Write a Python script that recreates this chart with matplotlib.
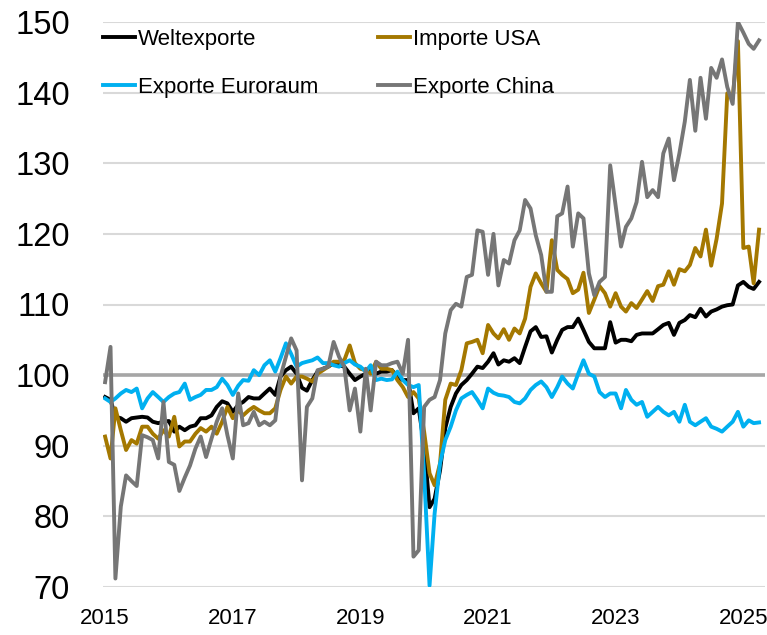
import numpy as np
import pandas as pd
import matplotlib
matplotlib.use("Agg")
import matplotlib.pyplot as plt

# Monatswerte Jan 2015 - Apr 2025, Index
weltexporte = [96.9, 96.5, 94.1, 93.9, 93.4, 93.9, 94.0, 94.1, 94.0, 93.4, 93.2, 93.4, 93.5, 92.0, 92.7, 92.2,
               92.7, 92.9, 93.9, 93.9, 94.3, 95.5, 96.3, 96.0, 94.8, 95.8, 96.2, 96.9, 96.7, 96.7, 97.4, 98.1,
               97.2, 99.8, 100.7, 101.2, 100.2, 98.2, 97.8, 99.3, 100.5, 100.9, 101.2, 101.7, 101.4, 101.2, 100.2, 99.3,
               99.8, 100.2, 100.9, 100.2, 100.5, 100.5, 100.7, 99.8, 99.3, 99.3, 94.6, 95.3, 90.0, 81.3, 82.5, 86.5,
               92.5, 95.5, 97.4, 98.6, 99.3, 100.2, 101.2, 101.0, 101.9, 103.1, 101.5, 102.1, 101.9, 102.4, 101.7, 104.0,
               106.2, 106.8, 105.4, 105.5, 103.2, 105.0, 106.4, 106.8, 106.8, 108.0, 106.4, 104.7, 103.8, 103.8, 103.8, 107.5,
               104.6, 105.0, 105.0, 104.8, 105.7, 105.9, 105.9, 105.9, 106.5, 107.1, 107.4, 105.7, 107.4, 107.8, 108.5, 108.2,
               109.4, 108.3, 109.0, 109.3, 109.7, 109.9, 110.0, 112.7, 113.2, 112.5, 112.2, 113.2]

importe_usa = [91.3, 88.2, 95.3, 92.2, 89.4, 90.8, 90.3, 92.7, 92.7, 91.7, 91.0, 92.2, 91.3, 94.1, 89.9, 90.6,
               90.6, 91.7, 92.5, 92.0, 92.7, 91.7, 93.4, 95.5, 93.9, 95.0, 94.3, 95.0, 95.5, 95.0, 94.6, 94.6,
               95.3, 97.9, 99.8, 98.8, 99.8, 99.8, 99.5, 99.1, 100.2, 100.7, 101.2, 101.9, 101.9, 102.1, 104.2, 101.7,
               100.9, 100.7, 100.2, 101.9, 100.9, 100.9, 100.7, 99.3, 98.3, 96.9, 97.6, 96.7, 92.0, 86.1, 84.4, 87.5,
               96.5, 98.8, 98.6, 100.7, 104.5, 104.7, 105.0, 103.1, 107.1, 105.9, 105.2, 106.5, 105.0, 106.6, 105.9, 108.0,
               112.5, 114.4, 113.0, 111.8, 119.1, 114.9, 114.2, 113.6, 111.6, 112.1, 114.5, 108.8, 110.7, 112.6, 111.6, 109.7,
               111.6, 109.7, 109.0, 110.2, 109.5, 110.7, 111.9, 110.5, 112.6, 112.8, 114.7, 112.8, 115.0, 114.7, 115.6, 118.0,
               116.8, 120.6, 115.5, 119.3, 124.3, 139.9, 139.2, 147.3, 118.0, 118.2, 113.0, 120.6]

exporte_euroraum = [96.7, 96.2, 96.7, 97.4, 97.9, 97.6, 98.1, 95.3, 96.7, 97.6, 96.9, 96.2, 96.9, 97.4, 97.6, 98.8,
                    96.5, 96.9, 97.2, 97.9, 97.9, 98.3, 99.5, 98.6, 97.2, 98.5, 99.3, 99.2, 100.7, 100.0, 101.4, 102.1,
                    100.5, 102.4, 104.5, 103.0, 101.2, 101.7, 101.9, 102.1, 102.5, 101.7, 101.7, 101.4, 101.2, 101.7, 102.1, 101.5,
                    101.2, 100.5, 101.4, 99.3, 99.5, 99.3, 99.4, 100.5, 99.3, 98.6, 98.3, 98.6, 86.0, 70.2, 80.4, 87.5,
                    90.8, 92.7, 95.0, 96.7, 97.2, 97.6, 96.5, 95.3, 98.1, 97.5, 97.2, 97.1, 96.9, 96.2, 96.0, 96.7,
                    97.9, 98.6, 99.1, 98.3, 96.9, 98.3, 99.8, 98.8, 98.1, 100.2, 102.1, 100.2, 99.8, 97.6, 96.9, 97.4,
                    97.4, 95.3, 97.9, 96.5, 95.8, 96.2, 94.1, 94.8, 95.5, 94.8, 94.3, 94.8, 93.4, 95.8, 93.4, 92.9,
                    93.4, 93.9, 92.7, 92.4, 92.0, 92.7, 93.4, 94.8, 92.7, 93.6, 93.2, 93.3]

exporte_china = [99.0, 104.0, 71.2, 81.4, 85.8, 85.0, 84.3, 91.5, 91.2, 90.8, 88.2, 96.2, 87.7, 87.3, 83.6, 85.5,
                 87.2, 89.6, 91.3, 88.4, 91.0, 93.4, 95.3, 91.5, 88.2, 97.4, 92.9, 93.2, 94.8, 92.9, 93.4, 92.9,
                 93.6, 99.8, 102.6, 105.2, 103.5, 85.1, 95.5, 96.7, 100.7, 100.9, 101.2, 104.7, 102.6, 101.2, 95.0, 98.1,
                 92.0, 100.9, 95.0, 101.9, 101.4, 101.4, 101.7, 101.9, 100.2, 105.0, 74.3, 75.2, 95.5, 96.5, 96.9, 99.3,
                 105.9, 109.2, 110.1, 109.7, 113.9, 114.2, 120.5, 120.3, 114.2, 120.0, 112.7, 116.3, 115.8, 119.1, 120.5, 124.8,
                 123.6, 119.8, 117.0, 111.8, 111.8, 122.5, 122.9, 126.7, 118.2, 122.9, 122.2, 114.4, 111.3, 113.2, 113.9, 129.7,
                 124.0, 118.2, 121.0, 122.2, 124.5, 130.2, 125.2, 126.2, 125.2, 131.4, 133.5, 127.6, 131.4, 135.9, 141.8, 134.6,
                 142.1, 136.3, 143.5, 142.1, 144.7, 140.8, 138.4, 150.0, 148.5, 146.9, 146.2, 147.4]

namen = ["Weltexporte", "Importe USA", "Exporte Euroraum", "Exporte China"]
farben = ["#000000", "#A47800", "#00B0F0", "#767676"]
jahre = [2015, 2017, 2019, 2021, 2023, 2025]

monate = pd.date_range("2015-01-01", periods=len(weltexporte), freq="MS")

plt.rcParams["font.family"] = ["Liberation Sans", "DejaVu Sans"]

fig = plt.figure(figsize=(7.67, 6.35), dpi=100)
ax = fig.add_axes([103 / 767, 48 / 635, 662 / 767, 565 / 635])

ax.axhline(100, color="#a6a6a6", lw=2.6, zorder=1)
linien = []
for werte, name, farbe in zip([weltexporte, importe_usa, exporte_euroraum, exporte_china], namen, farben):
    l, = ax.plot(monate, werte, color=farbe, lw=2.8, label=name, zorder=2)
    linien.append(l)

ax.set_ylim(70, 150)
ax.set_yticks(range(70, 151, 10))
ax.set_xlim(pd.Timestamp("2014-12-20"), pd.Timestamp("2025-05-05"))
ax.set_xticks([pd.Timestamp(f"{j}-01-01") for j in jahre])
ax.set_xticklabels([str(j) for j in jahre])
ax.yaxis.grid(True, color="#d9d9d9", lw=1.5, zorder=0)
ax.set_axisbelow(True)
for s in ax.spines.values():
    s.set_visible(False)
ax.tick_params(axis="both", length=0)
ax.tick_params(axis="y", labelsize=23.5, pad=24)
ax.tick_params(axis="x", labelsize=16, pad=15)

# Legende: zwei Spalten
reihenfolge = [0, 2, 1, 3]
ax.legend([linien[i] for i in reihenfolge], [namen[i] for i in reihenfolge], ncol=2, frameon=False,
          loc="upper left", bbox_to_anchor=(0, 1 - 7 / 565), borderaxespad=0, borderpad=0,
          fontsize=16, handlelength=1.45, handletextpad=0.12, columnspacing=2.7, labelspacing=1.22)

fig.savefig("out.png", dpi=100)
